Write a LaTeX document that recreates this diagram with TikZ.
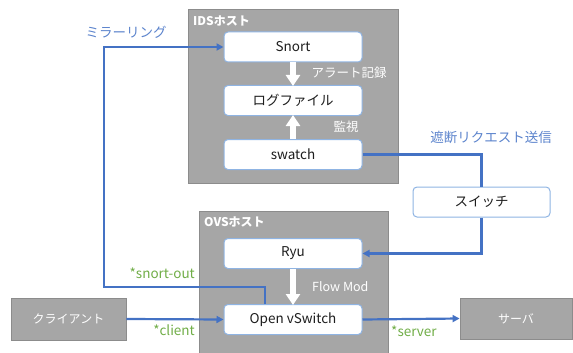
\documentclass[tikz,border=0pt]{standalone}
\usepackage{fontspec}
\setmainfont{Noto Sans CJK JP}
\usetikzlibrary{arrows.meta}
\definecolor{hostgray}{HTML}{A6A6A6}
\definecolor{hostedge}{HTML}{8C8C8C}
\definecolor{boxedge}{HTML}{8FB4E3}
\definecolor{linkblue}{HTML}{4472C4}
\definecolor{labelblue}{HTML}{5B83CC}
\definecolor{portgreen}{HTML}{70AD47}
\definecolor{txt}{HTML}{1E1E1E}
\tikzset{
  host/.style={draw=hostedge, fill=hostgray, line width=0.8pt, inner sep=0pt},
  endbox/.style={draw=hostedge, fill=hostgray, line width=0.8pt, inner sep=0pt, text=white, font=\fontsize{12}{14}\selectfont},
  proc/.style={draw=boxedge, fill=white, rounded corners=4pt, line width=1pt, minimum width=138pt, minimum height=30pt, inner sep=0pt, text=txt, font=\fontsize{13.5}{15}\selectfont},
  link/.style={draw=linkblue, line width=2.2pt, -{Triangle[length=7pt,width=7pt]}},
  plainlink/.style={draw=linkblue, line width=2.2pt},
  fat/.style={draw=white, line width=6pt, -{Triangle[length=11pt,width=14pt]}, shorten >=-1pt},
  hosttitle/.style={text=white, font=\bfseries\fontsize{12}{14}\selectfont, inner sep=0pt, anchor=west},
  inlabel/.style={text=white, font=\fontsize{12.5}{14}\selectfont, inner sep=0pt},
  bluelabel/.style={text=labelblue, font=\fontsize{13.5}{15}\selectfont, inner sep=0pt},
  port/.style={text=portgreen, font=\fontsize{13.5}{15}\selectfont, inner sep=0pt}
}
\begin{document}
\begin{tikzpicture}[x=1pt,y=-1pt]
\useasboundingbox (0,0) rectangle (573,353);
% hosts
\node[host, minimum width=210pt, minimum height=174pt] (ids) at (293,96) {};
\node[host, minimum width=189pt, minimum height=148pt] (ovs) at (293.5,285) {};
\node[hosttitle] (idst) at (193,21) {IDSホスト};
\node[hosttitle] (ovst) at (204,222) {OVSホスト};
% process boxes
\node[proc] (snort) at (293,47) {Snort};
\node[proc] (log) at (293,100.5) {ログファイル};
\node[proc] (swatch) at (293,154.5) {swatch};
\node[proc] (ryu) at (293,253.5) {Ryu};
\node[proc] (ovsw) at (293,319.5) {Open vSwitch};
\node[proc, minimum width=137pt] (sw) at (481.5,202) {スイッチ};
% end hosts
\node[endbox, minimum width=115pt, minimum height=42pt] (client) at (68.5,319) {クライアント};
\node[endbox, minimum width=112pt, minimum height=41pt] (server) at (516,318.5) {サーバ};
% white arrows
\draw[fat] (snort.south) -- (log.north);
\draw[fat] (swatch.north) -- (log.south);
\draw[fat] (ryu.south) -- (ovsw.north);
% blue links
\coordinate (m1) at (104,287);
\draw[link] ([xshift=-28pt]ovsw.north) |- (m1) |- (snort.west);
\draw[plainlink] (swatch.east) -| (sw.north);
\draw[link] (sw.south) |- (ryu.east);
\draw[link] (client.east) -- (ovsw.west);
\draw[link] (ovsw.east) -- (server.west);
% labels
\node[bluelabel] (lmirror) at (126,32) {ミラーリング};
\node[bluelabel] (lblock) at (491,137) {遮断リクエスト送信};
\node[inlabel] (lalert) at (349,73) {アラート記録};
\node[inlabel] (lwatch) at (346,127) {監視};
\node[inlabel, anchor=west] (lflow) at (312,287) {Flow Mod};
\node[port, anchor=east] (psnort) at (195,273) {*snort-out};
\node[port, anchor=east] (pclient) at (195,330) {*client};
\node[port, anchor=west] (pserver) at (391,331) {*server};
\end{tikzpicture}
\end{document}
